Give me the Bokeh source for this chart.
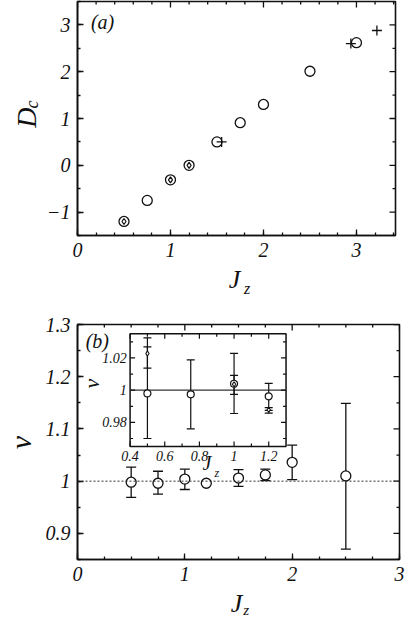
import math
import numpy as np
from bokeh.plotting import figure
from bokeh.layouts import column, row
from bokeh.models import (Range1d, LinearAxis, SingleIntervalTicker,
                          CustomJSTickFormatter, Label, Span, Spacer)
from bokeh.embed import file_html
from bokeh.resources import INLINE
from bokeh.core.properties import value

SERIF = "Liberation Serif"
INK = "#111111"

# ---------------- panel (a) data ----------------
jz_a = [0.5, 0.75, 1.0, 1.2, 1.5, 1.75, 2.0, 2.5, 3.0]
dc_a = [-1.2, -0.75, -0.31, 0.0, 0.5, 0.91, 1.3, 2.01, 2.62]
jz_a_inner = [0.5, 1.0, 1.2]
dc_a_inner = [-1.2, -0.31, 0.0]
jz_a_plus = [1.55, 2.94, 3.22]
dc_a_plus = [0.5, 2.6, 2.88]

# ---------------- panel (b) data ----------------
jz_b = [0.5, 0.75, 1.0, 1.2, 1.5, 1.75, 2.0, 2.5]
nu_b = [0.998, 0.996, 1.004, 0.996, 1.006, 1.012, 1.036, 1.010]
nu_b_hi = [1.027, 1.019, 1.023, float("nan"), 1.022, 1.023, 1.069, 1.149]
nu_b_lo = [0.969, 0.975, 0.984, float("nan"), 0.990, 1.001, 1.003, 0.870]

# ---------------- inset data ----------------
jz_i = [0.5, 0.75, 1.0, 1.2]
nu_i = [0.998, 0.9974, 1.004, 0.9962]
nu_i_hi = [1.0325, 1.0188, 1.0228, 1.0042]
nu_i_lo = [0.970, 0.976, 0.9855, 0.9875]
jz_d = [0.5, 1.0, 1.2]
nu_d = [1.0228, 1.0037, 0.9878]
nu_d_hi = [1.0269, 1.0092, 0.9892]
nu_d_lo = [1.0137, 0.9974, 0.9857]

inset_xticks = [0.4, 0.6, 0.8, 1.0, 1.2]
inset_xlabels = ["0.4", "0.6", "0.8", "1", "1.2"]
inset_xminor = [0.5, 0.7, 0.9, 1.1]
inset_yticks = [0.98, 1.0, 1.02]
inset_ylabels = ["0.98", "1", "1.02"]
inset_yminor = [0.97, 0.99, 1.01, 1.03]

FMT = CustomJSTickFormatter(code="""
const s = Number(tick.toFixed(3)).toString();
return tick < 0 ? "\\u2212" + s.slice(1) : s;
""")


def style_axis(ax, standoff):
    ax.major_tick_in = 6
    ax.major_tick_out = 0
    ax.minor_tick_in = 3
    ax.minor_tick_out = 0
    ax.axis_line_width = 1.6
    ax.axis_line_color = INK
    ax.major_tick_line_width = 1.3
    ax.minor_tick_line_width = 1.3
    ax.major_tick_line_color = INK
    ax.minor_tick_line_color = INK
    ax.formatter = FMT
    ax.major_label_text_font = SERIF
    ax.major_label_text_font_style = "italic"
    ax.major_label_text_font_size = "20px"
    ax.major_label_text_color = INK
    ax.major_label_standoff = standoff


def clean(p):
    p.xgrid.visible = False
    p.ygrid.visible = False
    p.background_fill_color = "white"
    p.border_fill_color = "white"


def make_fig(xr, yr, xstep, xminor, ystep, yminor, w, h, top, bottom, left,
             right):
    p = figure(width=w, height=h, x_range=xr, y_range=yr,
               output_backend="svg", toolbar_location=None,
               min_border_left=left, min_border_right=right,
               min_border_top=top, min_border_bottom=bottom,
               x_axis_location=None, y_axis_location=None)
    clean(p)
    p.outline_line_color = INK
    p.outline_line_width = 1.6
    bx = LinearAxis(ticker=SingleIntervalTicker(interval=xstep,
                                                num_minor_ticks=xminor))
    style_axis(bx, 7)
    p.add_layout(bx, "below")
    ly = LinearAxis(ticker=SingleIntervalTicker(interval=ystep,
                                                num_minor_ticks=yminor))
    style_axis(ly, 7)
    p.add_layout(ly, "left")
    # mirrored ticks on the top and right edges
    xs_all = np.arange(xr.start, xr.end + 1e-9, xstep / xminor)
    ys_all = np.arange(yr.start - (yr.start % (ystep / yminor)),
                       yr.end + 1e-9, ystep / yminor)
    ys_all = ys_all[ys_all >= yr.start - 1e-9]
    xmaj = [v for v in xs_all if abs(v / xstep - round(v / xstep)) < 1e-6]
    xmin = [v for v in xs_all if abs(v / xstep - round(v / xstep)) >= 1e-6]
    ymaj = [v for v in ys_all if abs(v / ystep - round(v / ystep)) < 1e-6]
    ymin = [v for v in ys_all if abs(v / ystep - round(v / ystep)) >= 1e-6]
    for xs, ln in ((xmaj, 6), (xmin, 3)):
        p.ray(x=xs, y=[yr.end] * len(xs), angle=-math.pi / 2, length=ln,
              length_units="screen", line_color=INK, line_width=1.3)
    for ys, ln in ((ymaj, 6), (ymin, 3)):
        p.ray(x=[xr.end] * len(ys), y=ys, angle=math.pi, length=ln,
              length_units="screen", line_color=INK, line_width=1.3)
    return p


def label_fig(w, h, xr, yr, top, bottom, left=0, right=0):
    f = figure(width=w, height=h, x_range=xr, y_range=yr,
               output_backend="svg", toolbar_location=None,
               min_border_left=left, min_border_right=right,
               min_border_top=top, min_border_bottom=bottom,
               x_axis_location=None, y_axis_location=None)
    clean(f)
    f.outline_line_color = None
    return f


def txt(f, x, y, s, size, angle=0.0):
    f.text(x=[x], y=[y], text=[s], angle=angle, text_font=value(SERIF),
           text_font_style="italic", text_font_size=f"{size}px",
           text_color=INK, text_align="center", text_baseline="middle")


def label(p, x, y, text, size):
    p.add_layout(Label(x=x, y=y, text=text, text_font=SERIF,
                       text_font_style="italic", text_font_size=f"{size}px",
                       text_color=INK, text_align="center",
                       text_baseline="middle"))


# ================= panel (a) =================
p1 = make_fig(Range1d(0, 3.42), Range1d(-1.5, 3.5), 1, 5, 1, 2,
              w=365, h=264, top=1, bottom=29, left=31, right=14)

p1.scatter(jz_a, dc_a, marker="circle", size=10, fill_color="white",
           line_color=INK, line_width=1.3)
p1.scatter(jz_a_inner, dc_a_inner, marker="diamond", size=6,
           fill_color="white", line_color=INK, line_width=1.2)
p1.scatter(jz_a_plus, dc_a_plus, marker="cross", size=10,
           line_color=INK, line_width=1.3)
label(p1, 0.27, 3.07, "(a)", 20)

L1 = label_fig(44, 264, Range1d(0, 1), p1.y_range, top=1, bottom=29)
txt(L1, 0.59, 1.02, "D", 28, math.pi / 2)
txt(L1, 0.71, 1.30, "c", 18, math.pi / 2)

B1 = label_fig(365, 34, p1.x_range, Range1d(0, 1), top=0, bottom=0,
               left=31, right=14)
txt(B1, 1.70, 0.56, "J", 26)
txt(B1, 1.835, 0.29, "z", 16)

# ================= panel (b) =================
p2 = make_fig(Range1d(0, 3), Range1d(0.85, 1.3), 1, 4, 0.1, 2,
              w=367, h=290, top=26, bottom=29, left=33, right=10)

p2.add_layout(Span(location=1.0, dimension="width", line_color="#333333",
                   line_dash="2 2", line_width=1))
p2.segment(x0=jz_b, x1=jz_b, y0=nu_b_lo, y1=nu_b_hi, line_color=INK,
           line_width=1.3)
p2.scatter(jz_b, nu_b_hi, marker="dash", size=10, line_color=INK, line_width=1.3)
p2.scatter(jz_b, nu_b_lo, marker="dash", size=10, line_color=INK, line_width=1.3)
p2.scatter(jz_b, nu_b, marker="circle", size=10, fill_color="white",
           line_color=INK, line_width=1.3)
label(p2, 0.185, 1.269, "(b)", 20)

L2 = label_fig(42, 290, Range1d(0, 1), p2.y_range, top=26, bottom=29)
txt(L2, 0.48, 1.074, "ν", 30, math.pi / 2)

B2 = label_fig(367, 30, p2.x_range, Range1d(0, 1), top=0, bottom=0,
               left=33, right=10)
txt(B2, 1.49, 0.50, "J", 26)
txt(B2, 1.58, 0.30, "z", 15)

# ---------------- inset (sub-coordinates) ----------------
ins_x = Range1d(0.4, 1.3)
ins_y = Range1d(0.965, 1.035)
sub = p2.subplot(x_source=ins_x, y_source=ins_y,
                 x_target=Range1d(0.490, 1.943),
                 y_target=Range1d(1.0663, 1.2822))

sub.quad(left=[ins_x.start], right=[ins_x.end], bottom=[ins_y.start],
         top=[ins_y.end], fill_color="white", line_color=INK, line_width=1.5)
sub.segment(x0=[ins_x.start], x1=[ins_x.end], y0=[1.0], y1=[1.0],
            line_color="#333333", line_width=1.1)


def rays(xs, ys, angle, length):
    sub.ray(x=xs, y=ys, length=length, length_units="screen", angle=angle,
            line_color=INK, line_width=1.2)


n_x, n_xm = len(inset_xticks), len(inset_xminor)
n_y, n_ym = len(inset_yticks), len(inset_yminor)
rays(inset_xticks, [ins_y.start] * n_x, math.pi / 2, 5)
rays(inset_xminor, [ins_y.start] * n_xm, math.pi / 2, 3)
rays(inset_xticks, [ins_y.end] * n_x, -math.pi / 2, 5)
rays(inset_xminor, [ins_y.end] * n_xm, -math.pi / 2, 3)
rays([ins_x.start] * n_y, inset_yticks, 0.0, 5)
rays([ins_x.start] * n_ym, inset_yminor, 0.0, 3)
rays([ins_x.end] * n_y, inset_yticks, math.pi, 5)
rays([ins_x.end] * n_ym, inset_yminor, math.pi, 3)

sub.segment(x0=jz_i, x1=jz_i, y0=nu_i_lo, y1=nu_i_hi, line_color=INK,
            line_width=1.2)
sub.scatter(jz_i, nu_i_hi, marker="dash", size=8, line_color=INK, line_width=1.2)
sub.scatter(jz_i, nu_i_lo, marker="dash", size=8, line_color=INK, line_width=1.2)
sub.segment(x0=jz_d, x1=jz_d, y0=nu_d_lo, y1=nu_d_hi, line_color=INK,
            line_width=1.2)
sub.scatter(jz_d, nu_d_hi, marker="dash", size=8, line_color=INK, line_width=1.2)
sub.scatter(jz_d, nu_d_lo, marker="dash", size=8, line_color=INK, line_width=1.2)
sub.scatter(jz_i, nu_i, marker="circle", size=7, fill_color="white",
            line_color=INK, line_width=1.2)
sub.scatter(jz_d, nu_d, marker="diamond", size=5, fill_color="white",
            line_color=INK, line_width=1.1)

sub.text(x=inset_xticks, y=[ins_y.start - 0.0025] * n_x, text=inset_xlabels,
         text_font=value(SERIF), text_font_style="italic",
         text_font_size="14px", text_color=INK, text_align="center",
         text_baseline="top")
sub.text(x=[ins_x.start - 0.02] * n_y, y=inset_yticks, text=inset_ylabels,
         text_font=value(SERIF), text_font_style="italic",
         text_font_size="14px", text_color=INK, text_align="right",
         text_baseline="middle")
txt(sub, 0.18, 1.004, "ν", 22, math.pi / 2)
txt(sub, 0.843, 0.955, "J", 20)
txt(sub, 0.90, 0.9485, "z", 12)

layout = column(row(L1, p1), row(Spacer(width=44, height=34), B1),
                row(L2, p2), row(Spacer(width=42, height=30), B2))
open("out.html", "w").write(file_html(layout, INLINE))
